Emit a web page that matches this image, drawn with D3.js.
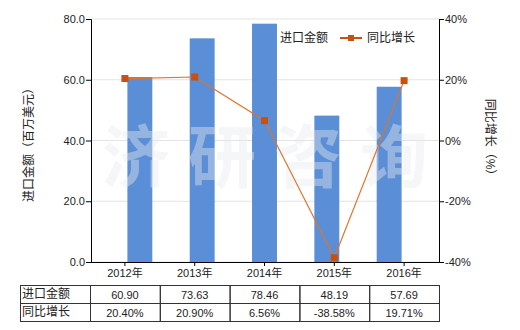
<!DOCTYPE html>
<html>
<head>
<meta charset="utf-8">
<script src="https://cdn.jsdelivr.net/npm/d3@7"></script>
<style>
  body { margin: 0; background: #fff; }
  text { font-family: "Liberation Sans", "Noto Sans CJK SC", sans-serif; }
</style>
</head>
<body>
<script>
// chart data
const years = ["2012年", "2013年", "2014年", "2015年", "2016年"];
const amounts = [60.90, 73.63, 78.46, 48.19, 57.69];
const growth = [20.40, 20.90, 6.56, -38.58, 19.71];
const leftTicks = [0, 20, 40, 60, 80];
const rightTicks = [-40, -20, 0, 20, 40];
const rowNames = ["进口金额", "同比增长"];

const config = { width: 520, height: 330 };
const plot = { left: 91, right: 439, top: 19, bottom: 262 };

const svg = d3.select("body").append("svg")
  .attr("width", config.width)
  .attr("height", config.height);

const x = d3.scaleBand().domain(years).range([plot.left - 1, plot.right]).padding(0.6);
const band = d3.scaleBand().domain(years).range([plot.left - 1, plot.right]);
const yL = d3.scaleLinear().domain([0, 80]).range([plot.bottom, plot.top]);
const yR = d3.scaleLinear().domain([-40, 40]).range([plot.bottom, plot.top]);

// gridlines
svg.append("g").selectAll("line").data(leftTicks).enter().append("line")
  .attr("x1", plot.left).attr("x2", plot.right)
  .attr("y1", d => yL(d)).attr("y2", d => yL(d))
  .attr("stroke", "#e3e3e3").attr("stroke-width", 1);

// bars
svg.append("g").selectAll("rect").data(amounts).enter().append("rect")
  .attr("x", (d, i) => x(years[i]))
  .attr("width", x.bandwidth())
  .attr("y", d => yL(d))
  .attr("height", d => plot.bottom - yL(d))
  .attr("fill", "#5A8ED6");

// watermark
svg.append("text")
  .text("济研咨询")
  .attr("x", 102).attr("y", 182)
  .attr("font-family", "Noto Sans CJK SC")
  .attr("font-weight", "bold")
  .attr("font-size", "68px")
  .attr("letter-spacing", "18px")
  .attr("fill", "#e6eaef")
  .attr("opacity", 0.42);

// growth line
const line = d3.line()
  .x((d, i) => band(years[i]) + band.bandwidth() / 2)
  .y(d => yR(d));
svg.append("path").datum(growth)
  .attr("d", line)
  .attr("fill", "none")
  .attr("stroke", "#E2732A")
  .attr("stroke-width", 1.2);
svg.append("g").selectAll("rect").data(growth).enter().append("rect")
  .attr("x", (d, i) => band(years[i]) + band.bandwidth() / 2 - 3.5)
  .attr("y", d => yR(d) - 3.5)
  .attr("width", 7).attr("height", 7)
  .attr("fill", "#C9500F");

// axes
const axisL = svg.append("g")
  .attr("transform", `translate(${plot.left},0)`)
  .call(d3.axisLeft(yL).tickValues(leftTicks).tickFormat(d3.format(".1f")).tickSizeOuter(0).tickSize(5));
const axisR = svg.append("g")
  .attr("transform", `translate(${plot.right},0)`)
  .call(d3.axisRight(yR).tickValues(rightTicks).tickFormat(d => d + "%").tickSizeOuter(0).tickSize(5));
const axisB = svg.append("g")
  .attr("transform", `translate(0,${plot.bottom})`)
  .call(d3.axisBottom(band).tickSize(4).tickSizeOuter(0));
[axisL, axisR, axisB].forEach(g => {
  g.selectAll("path,line").attr("stroke", "#000");
  g.selectAll("text").attr("font-size", "11px").attr("fill", "#222")
    .attr("font-family", "Liberation Sans, Noto Sans CJK SC");
});
axisL.selectAll("text").attr("x", -6);
axisR.selectAll("text").attr("x", 6);
axisB.selectAll("text").attr("y", 7);

// axis titles
svg.append("text")
  .text("进口金额（百万美元）")
  .attr("transform", "translate(33,142) rotate(-90)")
  .attr("text-anchor", "middle")
  .attr("font-size", "12px")
  .attr("font-family", "Noto Sans CJK SC")
  .attr("fill", "#222");
svg.append("text")
  .text("同比增长（%）")
  .attr("transform", "translate(486,140) rotate(90)")
  .attr("text-anchor", "middle")
  .attr("font-size", "12px")
  .attr("font-family", "Noto Sans CJK SC")
  .attr("fill", "#222");

// legend
svg.append("text").text("进口金额")
  .attr("x", 280).attr("y", 42)
  .attr("font-size", "12px").attr("font-family", "Noto Sans CJK SC").attr("fill", "#222");
svg.append("line")
  .attr("x1", 340).attr("x2", 362).attr("y1", 38).attr("y2", 38)
  .attr("stroke", "#C9500F").attr("stroke-width", 2);
svg.append("rect")
  .attr("x", 348).attr("y", 35).attr("width", 6).attr("height", 6)
  .attr("fill", "#C9500F");
svg.append("text").text("同比增长")
  .attr("x", 367).attr("y", 42)
  .attr("font-size", "12px").attr("font-family", "Noto Sans CJK SC").attr("fill", "#222");

// data table
const tableTop = 285, rowH = 18, firstColX = 20;
const rows = [amounts.map(d => d.toFixed(2)), growth.map(d => d.toFixed(2) + "%")];
const table = svg.append("g");
rows.forEach((vals, r) => {
  const yTop = tableTop + r * rowH;
  table.append("rect")
    .attr("x", firstColX + 0.5).attr("y", yTop + 0.5)
    .attr("width", plot.left - 1 - firstColX).attr("height", rowH)
    .attr("fill", "none").attr("stroke", "#333");
  table.append("text").text(rowNames[r])
    .attr("x", firstColX + 2).attr("y", yTop + 13)
    .attr("font-size", "12px").attr("font-family", "Noto Sans CJK SC").attr("fill", "#222");
  vals.forEach((v, i) => {
    table.append("rect")
      .attr("x", band(years[i]) + 0.5).attr("y", yTop + 0.5)
      .attr("width", band.bandwidth()).attr("height", rowH)
      .attr("fill", "none").attr("stroke", "#333");
    table.append("text").text(v)
      .attr("x", band(years[i]) + band.bandwidth() / 2).attr("y", yTop + 14)
      .attr("text-anchor", "middle")
      .attr("font-size", "11px").attr("fill", "#222");
  });
});
</script>
</body>
</html>
